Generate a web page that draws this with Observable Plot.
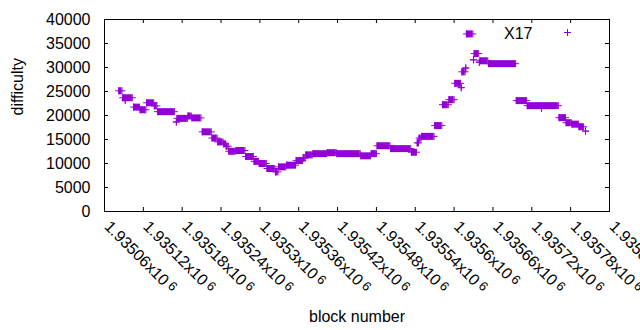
<!DOCTYPE html>
<html><head><meta charset="utf-8">
<script src="https://cdn.jsdelivr.net/npm/d3@7"></script>
<script src="https://cdn.jsdelivr.net/npm/@observablehq/plot@0.6"></script>
<style>
html,body{margin:0;padding:0;background:#fff;}
</style></head><body><div id="chart"></div>
<script>
// runs of blocks sharing one difficulty value (start block, end block, difficulty)
const runStart = [1935082,1935088,1935092,1935105,1935115,1935125,1935137,1935142,1935171,1935172,
  1935189,1935195,1935211,1935226,1935235,1935244,1935248,1935252,1935263,1935278,
  1935291,1935299,1935311,1935324,1935329,1935341,1935356,1935367,1935371,1935382,
  1935404,1935419,1935456,1935472,1935481,1935502,1935534,1935543,1935546,1935550,
  1935570,1935582,1935592,1935601,1935611,1935612,1935618,1935619,1935630,1935631,
  1935639,1935640,1935653,1935696,1935713,1935735,1935762,1935773,1935782,1935793,1935803];
const runEnd = [1935087,1935103,1935092,1935114,1935124,1935136,1935141,1935168,1935171,1935188,
  1935194,1935209,1935225,1935234,1935243,1935247,1935251,1935262,1935277,1935290,
  1935298,1935310,1935323,1935328,1935340,1935355,1935366,1935370,1935381,1935403,
  1935418,1935455,1935471,1935480,1935501,1935533,1935542,1935545,1935549,1935569,
  1935581,1935591,1935600,1935610,1935611,1935617,1935618,1935629,1935630,1935638,
  1935639,1935652,1935695,1935712,1935761,1935735,1935772,1935781,1935792,1935800,1935803];
const runDiff = [25150,23700,23200,21750,21200,22650,22000,20800,18650,19400,
  19900,19500,16600,15300,14500,14100,13600,12550,12700,11450,
  10450,10000,8950,8250,9300,9650,10600,11150,11800,12050,
  12250,12050,11600,12050,13700,13100,12350,14300,15300,15650,
  17900,22250,23300,26700,25800,29100,29900,37000,31600,32900,
  31100,31400,30800,23100,22050,21500,19550,18500,18200,17650,16750];

const xTicks = [1935060,1935120,1935180,1935240,1935300,1935360,1935420,1935480,
  1935540,1935600,1935660,1935720,1935780,1935840];
const yTicks = [0,5000,10000,15000,20000,25000,30000,35000,40000];
const seriesName = "X17";
const xLabel = "block number";
const yLabel = "difficulty";

const color = "#9400d3";
const runs = runStart.map((s, i) => ({start: s, end: runEnd[i], diff: runDiff[i]}));

// thin gnuplot-style "+" point
const plusSym = {draw(ctx) { const h = 3.5; ctx.moveTo(-h, 0); ctx.lineTo(h, 0); ctx.moveTo(0, -h); ctx.lineTo(0, h); }};

const W = 640, H = 330, mL = 104, mR = 31, mT = 19, mB = 119;
const fw = W - mL - mR, fh = H - mT - mB;
const fmt = v => String(+(v / 1e6).toFixed(5)) + "x10";

const chart = Plot.plot({
  width: W, height: H,
  marginLeft: mL, marginRight: mR, marginTop: mT, marginBottom: mB,
  style: {fontFamily: "'Liberation Sans', Arial, sans-serif", fontSize: "16px", background: "white", color: "black", overflow: "visible"},
  x: {domain: [xTicks[0], xTicks[xTicks.length - 1]], axis: null},
  y: {domain: [yTicks[0], yTicks[yTicks.length - 1]], axis: null},
  marks: [
    // inward ticks on all four borders
    Plot.ruleY(yTicks, {y: d => d, insetRight: fw - 4, stroke: "black"}),
    Plot.ruleY(yTicks, {y: d => d, insetLeft: fw - 4, stroke: "black"}),
    Plot.ruleX(xTicks, {x: d => d, insetTop: fh - 4, stroke: "black"}),
    Plot.ruleX(xTicks, {x: d => d, insetBottom: fh - 4, stroke: "black"}),
    Plot.frame({stroke: "black"}),
    // tick labels
    Plot.text(yTicks, {y: d => d, text: d => String(d), frameAnchor: "left", dx: -14, textAnchor: "end", fill: "black"}),
    Plot.text(xTicks, {x: d => d, text: fmt, frameAnchor: "bottom", rotate: 45, textAnchor: "start", lineAnchor: "bottom", dx: -1, dy: 16, fill: "black", className: "xticklab"}),
    // axis titles
    Plot.text([xLabel], {text: d => d, frameAnchor: "bottom", dy: 105, lineAnchor: "middle", fill: "black"}),
    Plot.text([yLabel], {text: d => d, frameAnchor: "left", dx: -87, rotate: -90, lineAnchor: "middle", fill: "black"}),
    // data: dense "+" points form filled bands
    Plot.ruleY(runs, {y: "diff", x1: "start", x2: "end", stroke: color, strokeWidth: 7}),
    Plot.dot(runs, {x: "start", y: "diff", symbol: plusSym, fill: "none", stroke: color, strokeWidth: 1}),
    Plot.dot(runs, {x: "end", y: "diff", symbol: plusSym, fill: "none", stroke: color, strokeWidth: 1}),
    // key
    Plot.text([seriesName], {text: d => d, frameAnchor: "top-right", dx: -77, dy: 14, textAnchor: "end", lineAnchor: "middle", fill: "black"}),
    Plot.dot([seriesName], {frameAnchor: "top-right", dx: -42, dy: 13, symbol: plusSym, fill: "none", stroke: color, strokeWidth: 1})
  ]
});

// exponent as superscript
d3.select(chart).selectAll(".xticklab text").each(function () {
  const t = d3.select(this);
  const base = this.textContent;
  t.text(base);
  t.append("tspan").attr("dx", 3).attr("dy", -3).attr("font-size", "13px").text("6");
});

document.getElementById("chart").appendChild(chart);
</script>
</body></html>
